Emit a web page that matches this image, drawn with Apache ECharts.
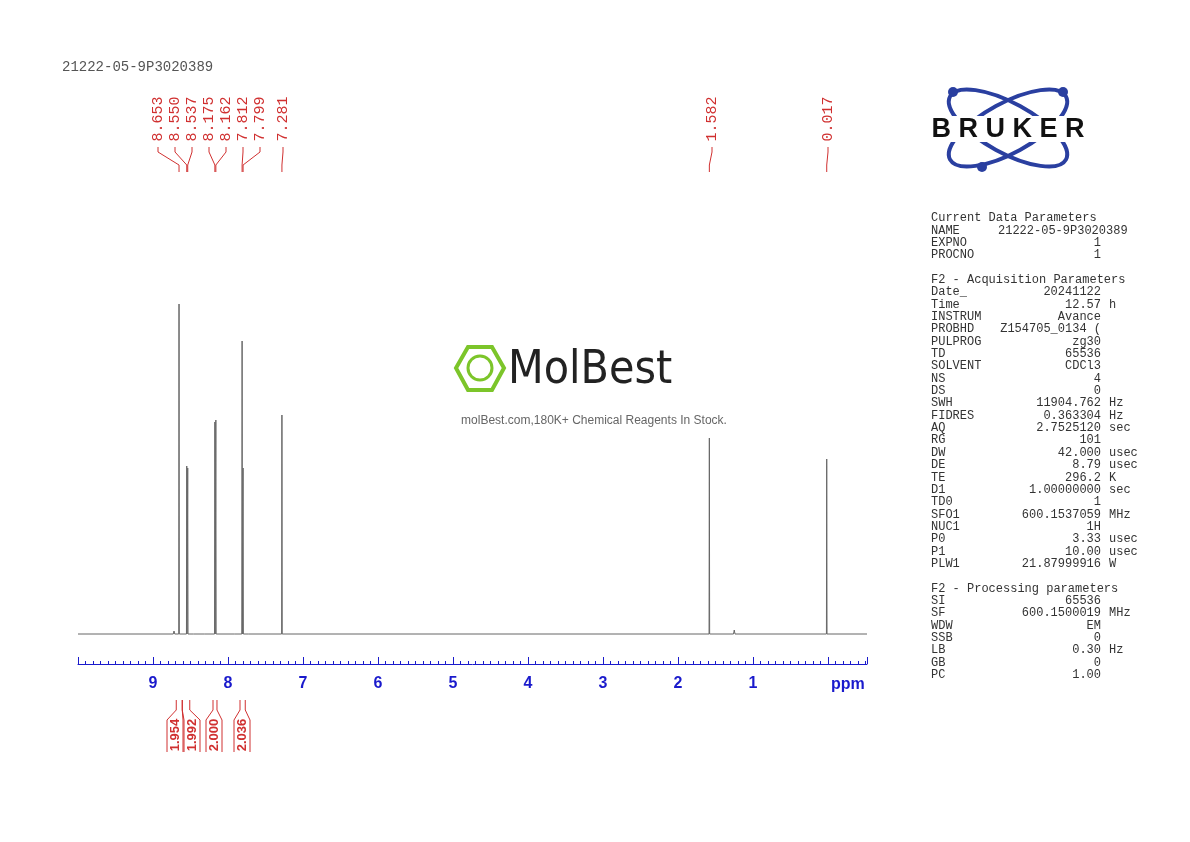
<!DOCTYPE html>
<html><head><meta charset="utf-8">
<script src="https://cdn.jsdelivr.net/npm/echarts@6/dist/echarts.min.js"></script>
<style>html,body{margin:0;background:#fff}#c{width:1190px;height:842px}</style>
</head><body><div id="c"></div>
<script>
// peak shifts (ppm) and heights (arbitrary units)
var peakPpm = [8.653, 8.550, 8.537, 8.175, 8.162, 7.812, 7.799, 7.281, 1.582, 0.017];
var peakHeight = [330, 168, 166, 212, 214, 293, 166, 219, 196, 175];
var smallPpm = [8.72, 8.45, 8.30, 7.90, 7.72, 1.25];
var smallHeight = [3, 2, 2, 2, 2, 4];
var peakLabels = ['8.653','8.550','8.537','8.175','8.162','7.812','7.799','7.281','1.582','0.017'];
var labelX = [158,175,192,209,226,243,260,283,712,828];
var integralValues = ['1.954','1.992','2.000','2.036'];
var integralFrom = [8.69, 8.61, 8.20, 7.84];
var integralTo = [8.61, 8.51, 8.147, 7.77];
var integralX = [175,192,214,242];
var axisLabels = [1,2,3,4,5,6,7,8,9];
var params = [
 ['Current Data Parameters','',''],['NAME','',''],['EXPNO','1',''],['PROCNO','1',''],['','',''],
 ['F2 - Acquisition Parameters','',''],['Date_','20241122',''],['Time','12.57','h'],['INSTRUM','Avance',''],
 ['PROBHD','Z154705_0134 (',''],['PULPROG','zg30',''],['TD','65536',''],['SOLVENT','CDCl3',''],['NS','4',''],['DS','0',''],
 ['SWH','11904.762','Hz'],['FIDRES','0.363304','Hz'],['AQ','2.7525120','sec'],['RG','101',''],['DW','42.000','usec'],
 ['DE','8.79','usec'],['TE','296.2','K'],['D1','1.00000000','sec'],['TD0','1',''],['SFO1','600.1537059','MHz'],
 ['NUC1','1H',''],['P0','3.33','usec'],['P1','10.00','usec'],['PLW1','21.87999916','W'],['','',''],
 ['F2 - Processing parameters','',''],['SI','65536',''],['SF','600.1500019','MHz'],['WDW','EM',''],['SSB','0',''],
 ['LB','0.30','Hz'],['GB','0',''],['PC','1.00','']
];

// spectrum points: baseline plus narrow peaks
var pts = [[10.0,0],[-0.52,0]];
peakPpm.forEach(function(p,i){ pts.push([p+0.004,0],[p,peakHeight[i]],[p-0.004,0]); });
smallPpm.forEach(function(p,i){ pts.push([p+0.01,0],[p,smallHeight[i]],[p-0.01,0]); });
pts.sort(function(a,b){return b[0]-a[0];});

var chart = echarts.init(document.getElementById('c'));
var mono = 'Liberation Mono';
var option = {
  animation:false,
  grid:{left:78,right:323,top:290,bottom:178},
  xAxis:{type:'value',inverse:true,min:-0.52,max:10.0,splitNumber:10,
    axisLine:{onZero:false,lineStyle:{color:'#1a1acc',width:1}},
    axisTick:{inside:true,length:7,lineStyle:{color:'#1a1acc'}},
    minorTick:{show:true,splitNumber:10,length:3,lineStyle:{color:'#1a1acc'}},
    axisLabel:{inside:false,margin:12,color:'#1a1acc',fontWeight:'bold',fontSize:16,fontFamily:'Liberation Sans',
      formatter:function(v){return axisLabels.indexOf(v)>=0 ? String(v) : '';}},
    splitLine:{show:false}},
  yAxis:{type:'value',min:-30,max:344,show:false},
  series:[{type:'line',data:pts,showSymbol:false,lineStyle:{color:'#666',width:1},silent:true}]
};
chart.setOption(option);

var g = [];
var red = '#d03030';
g.push({type:'text',left:62,top:60,style:{text:'21222-05-9P3020389',font:'14px '+mono,fill:'#555'}});
g.push({type:'text',left:831,top:677,style:{text:'ppm',font:'bold 16px Liberation Sans',fill:'#1a1acc'}});
// peak labels
peakPpm.forEach(function(p,i){
  var px = chart.convertToPixel({xAxisIndex:0},p);
  var lx = labelX[i];
  g.push({type:'text',x:lx,y:119,rotation:Math.PI/2,
    style:{text:peakLabels[i],font:'15px '+mono,fill:red,align:'center',verticalAlign:'middle'}});
  g.push({type:'polyline',shape:{points:[[lx,147],[lx,152],[px,165],[px,172]]},style:{stroke:red,lineWidth:1,fill:null}});
});
// integrals
integralValues.forEach(function(v,i){
  var a = chart.convertToPixel({xAxisIndex:0},integralFrom[i]);
  var b = chart.convertToPixel({xAxisIndex:0},integralTo[i]);
  var c = integralX[i];
  g.push({type:'polyline',shape:{points:[[a,700],[a,710],[c-8,720],[c-8,752]]},style:{stroke:red,lineWidth:1,fill:null}});
  g.push({type:'polyline',shape:{points:[[b,700],[b,710],[c+8,720],[c+8,752]]},style:{stroke:red,lineWidth:1,fill:null}});
  g.push({type:'text',x:c,y:735,rotation:Math.PI/2,
    style:{text:v,font:'bold 13px Liberation Sans',fill:red,align:'center',verticalAlign:'middle'}});
});
// parameters block
params.forEach(function(r,i){
  var y = 212 + i*12.35;
  if(r[0]) g.push({type:'text',left:931,top:y,style:{text:r[0],font:'12px '+mono,fill:'#333'}});
  if(r[1]) g.push({type:'text',x:1101,y:y,style:{text:r[1],font:'12px '+mono,fill:'#333',align:'right'}});
  if(r[2]) g.push({type:'text',x:1109,y:y,style:{text:r[2],font:'12px '+mono,fill:'#333'}});
});
g.push({type:'text',left:998,top:212+12.35,style:{text:'21222-05-9P3020389',font:'12px '+mono,fill:'#333'}});
// Bruker logo
g.push({type:'ellipse',shape:{cx:1008,cy:128,rx:66,ry:25},rotation:0.5,originX:1008,originY:128,style:{stroke:'#2a3fa0',lineWidth:4,fill:null}});
g.push({type:'ellipse',shape:{cx:1008,cy:128,rx:66,ry:25},rotation:-0.5,originX:1008,originY:128,style:{stroke:'#2a3fa0',lineWidth:4,fill:null}});
g.push({type:'circle',shape:{cx:953,cy:92,r:5},style:{fill:'#2a3fa0'}});
g.push({type:'circle',shape:{cx:1063,cy:92,r:5},style:{fill:'#2a3fa0'}});
g.push({type:'circle',shape:{cx:982,cy:167,r:5},style:{fill:'#2a3fa0'}});
g.push({type:'rect',shape:{x:922,y:116,width:170,height:26},style:{fill:'#fff'}});
g.push({type:'text',x:1008,y:130,style:{text:'B R U K E R',font:'bold 27px Liberation Sans',fill:'#111',align:'center',verticalAlign:'middle'}});
// watermark
g.push({type:'polygon',shape:{points:[[468,347],[492,347],[504,368],[492,390],[468,390],[456,368]]},style:{stroke:'#7cc52a',lineWidth:4,fill:null}});
g.push({type:'circle',shape:{cx:480,cy:368,r:12},style:{stroke:'#7cc52a',lineWidth:3,fill:null}});
g.push({type:'text',left:508,top:348,style:{text:'MolBest',font:'46px DejaVu Sans Condensed',fill:'#222'}});
g.push({type:'text',x:594,y:421,style:{text:'molBest.com,180K+ Chemical Reagents In Stock.',font:'12px Liberation Sans',fill:'#666',align:'center',verticalAlign:'middle'}});
chart.setOption({graphic:g});
</script></body></html>
